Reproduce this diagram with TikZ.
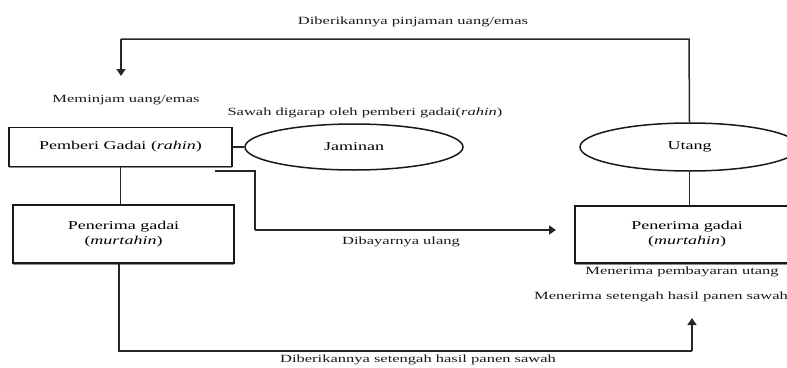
\documentclass[tikz,border=0pt]{standalone}
\usepackage{fontspec}
\setmainfont{Liberation Serif}[FakeStretch=1.5]
\usetikzlibrary{arrows.meta,shapes.geometric,shadows}
\begin{document}
\begin{tikzpicture}[x=1pt,y=-1pt,
  lbl/.style={font=\fontsize{11}{13}\selectfont, inner sep=0pt, text=black!90},
  boxtxt/.style={font=\fontsize{12}{15}\selectfont, text=black},
  box/.style={draw=black!90, line width=1.3pt, fill=white, rectangle, inner sep=0pt,
    drop shadow={shadow xshift=0.4pt, shadow yshift=-1.8pt, fill=black!45, opacity=1}},
  oval/.style={draw=black!90, line width=1.5pt, ellipse, inner sep=0pt, fill=white},
  conn/.style={draw=black!85, line width=1.5pt},
  arr/.style={conn, -{Triangle[width=9pt,length=7pt]}}]
\useasboundingbox (0,0) rectangle (787,367);
\clip (0,0) rectangle (787,367);
% nodes
\node[box, boxtxt, minimum width=223pt, minimum height=39pt] (pg) at (120.5,147) {Pemberi Gadai (\textit{rahin})};
\node[oval, boxtxt, minimum width=218pt, minimum height=46pt] (jam) at (354,147) {Jaminan};
\node[oval, boxtxt, minimum width=219pt, minimum height=48pt] (utang) at (689.5,147) {Utang};
\node[box, boxtxt, minimum width=221pt, minimum height=58pt, align=center] (pl) at (123.5,234) {Penerima gadai\\(\textit{murtahin})};
\node[box, boxtxt, minimum width=224pt, minimum height=57pt, align=center] (pr) at (687,234.5) {Penerima gadai\\(\textit{murtahin})};
% labels
\node[lbl] (t1) at (413,22) {Diberikannya pinjaman uang/emas};
\node[lbl] (t2) at (126,100) {Meminjam uang/emas};
\node[lbl] (t3) at (365,113) {Sawah digarap oleh pemberi gadai(\textit{rahin})};
\node[lbl] (t4) at (401,242) {Dibayarnya ulang};
\node[lbl] (t5) at (682,272) {Menerima pembayaran utang};
\node[lbl] (t6) at (661,297) {Menerima setengah hasil panen sawah};
\node[lbl] (t7) at (418,360) {Diberikannya setengah hasil panen sawah};
% coordinates
\coordinate (topR) at (689,39);
\coordinate (topL) at (121,39);
\coordinate (arrTip) at (121,76);
\coordinate (d1) at (215,171);
\coordinate (d2) at (255,171);
\coordinate (d3) at (255,230);
\coordinate (dTip) at (556,230);
\coordinate (b1) at (119,351);
\coordinate (b2) at (692,351);
\coordinate (bTip) at (692,318);
% connectors
\draw[conn] (utang.north) -- (topR) -- (topL);
\draw[arr] (topL) -- (arrTip);
\draw[conn] (pg.east) -- (jam.west);
\draw[conn] (pg.south) -- (pl.north -| pg.south);
\draw[conn] (utang.south) -- (pr.north -| utang.south);
\draw[conn] (d1) -- (d2) -- (d3);
\draw[arr] (d3) -- (dTip);
\draw[conn] (pl.south -| b1) -- (b1) -- (b2);
\draw[arr] (b2) -- (bTip);
\end{tikzpicture}
\end{document}
